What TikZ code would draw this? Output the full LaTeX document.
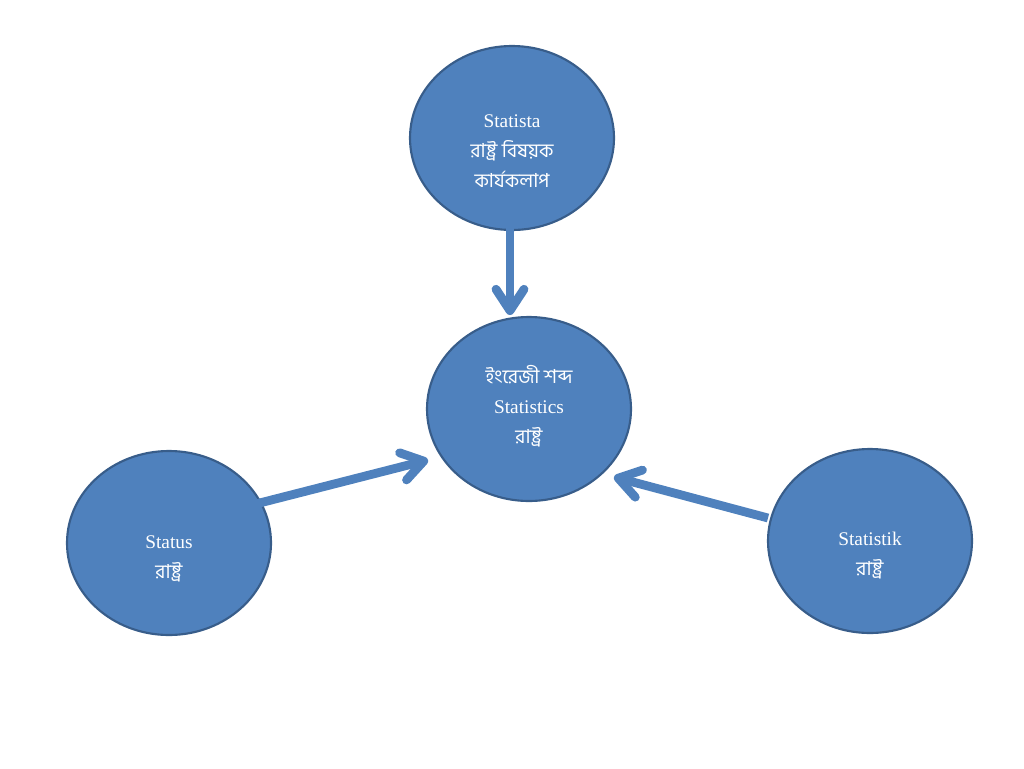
\documentclass[tikz,border=0pt]{standalone}
\usepackage{fontspec}
\setmainfont{Liberation Serif}
\newfontfamily\bn[Script=Bengali]{Hind Siliguri}
\usetikzlibrary{arrows.meta,shapes.geometric}
\definecolor{fillb}{HTML}{4F81BD}
\definecolor{edgeb}{HTML}{385D8A}
\tikzset{
  bubble/.style={ellipse, fill=fillb, draw=edgeb, line width=1.6pt, minimum width=153pt, minimum height=138pt, inner sep=0pt},
  btext/.style={text=white, align=center, font=\fontsize{14.5}{22.5}\selectfont, inner sep=0pt},
  link/.style={draw=fillb, line width=6.6pt, -{Straight Barb[length=16pt,width=21pt,line width=6.6pt,line cap=round,round]}},
}
\begin{document}
\begin{tikzpicture}[x=0.75pt,y=-0.75pt]
\useasboundingbox (0,0) rectangle (1024,768);
\node[bubble] (T) at (512,138) {};
\node[bubble] (C) at (529,409) {};
\node[bubble] (L) at (169,543) {};
\node[bubble] (R) at (870,541) {};
\node[btext] (Tt) at (512,151) {Statista\\{\bn রাষ্ট্র বিষয়ক}\\{\bn কার্যকলাপ}};
\node[btext] (Ct) at (529,406) {{\bn ইংরেজী শব্দ}\\Statistics\\{\bn রাষ্ট্র}};
\node[btext] (Lt) at (169,559) {Status\\{\bn রাষ্ট্র}};
\node[btext] (Rt) at (870,556) {Statistik\\{\bn রাষ্ট্র}};
\coordinate (ts) at (510,228);
\coordinate (te) at (510,315);
\coordinate (ls) at (240,508);
\coordinate (le) at (428,460);
\coordinate (rs) at (768,518);
\coordinate (re) at (614,477);
\draw[link] (ts) -- (te);
\draw[link] (ls) -- (le);
\draw[link] (rs) -- (re);
\end{tikzpicture}
\end{document}
